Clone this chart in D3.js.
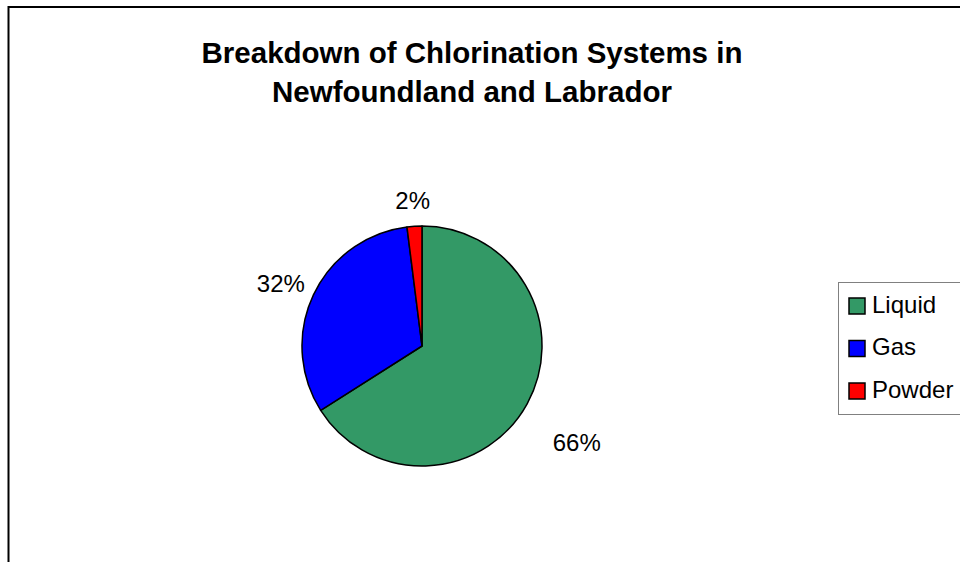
<!DOCTYPE html>
<html>
<head>
<meta charset="utf-8">
<script src="https://cdn.jsdelivr.net/npm/d3@7"></script>
<style>
  html, body { margin: 0; padding: 0; background: #fff; }
  svg { display: block; font-family: "Liberation Sans", Arial, sans-serif; }
</style>
</head>
<body>
<svg id="chart" width="960" height="562"></svg>
<script>
// Chlorination systems by type (share of systems, %)
const categories = ["Liquid", "Gas", "Powder"];
const shares = [66, 32, 2];
const colors = ["#339966", "#0000FF", "#FF0000"];
const titleLines = ["Breakdown of Chlorination Systems in", "Newfoundland and Labrador"];

const svg = d3.select("#chart");

// outer chart frame
svg.append("rect")
  .attr("x", 8.5).attr("y", 7)
  .attr("width", 1000).attr("height", 600)
  .attr("fill", "#fff")
  .attr("stroke", "#000")
  .attr("stroke-width", 2);

// title
const title = svg.append("text")
  .attr("text-anchor", "middle")
  .attr("font-weight", "bold")
  .attr("font-size", 29.5)
  .attr("fill", "#000");
titleLines.forEach((t, i) => {
  title.append("tspan").attr("x", 472).attr("y", 63 + i * 39).text(t);
});

// pie
const cx = 422, cy = 346, r = 120;
const data = categories.map((c, i) => ({ name: c, value: shares[i], color: colors[i] }));
const pie = d3.pie().value(d => d.value).sort(null);
const arc = d3.arc().innerRadius(0).outerRadius(r);
const arcs = pie(data);

const g = svg.append("g").attr("transform", `translate(${cx},${cy})`);
g.selectAll("path.slice")
  .data(arcs)
  .join("path")
  .attr("class", "slice")
  .attr("d", arc)
  .attr("fill", d => d.data.color)
  .attr("stroke", "#000")
  .attr("stroke-width", 1.5)
  .attr("stroke-linejoin", "round");

// percentage labels just outside each slice; the large slice's label sits further out
const labelFont = 24;
const gap = 12, boxH = 28;
const labelNudge = [[18, 26], [0, 0], [0, 0]];
arcs.forEach((a, i) => {
  const mid = (a.startAngle + a.endAngle) / 2;
  const dx = Math.sin(mid), dy = -Math.cos(mid);
  const txt = g.append("text")
    .attr("font-size", labelFont)
    .attr("text-anchor", "middle")
    .attr("dominant-baseline", "central")
    .attr("fill", "#000")
    .text(d3.format(".0f")(a.data.value) + "%");
  const w = txt.node().getComputedTextLength();
  const ax = dx * (r + gap), ay = dy * (r + gap);
  txt.attr("x", ax + dx * w / 2 + labelNudge[i][0])
     .attr("y", ay + dy * boxH / 2 + labelNudge[i][1]);
});

// legend
const legend = svg.append("g");
legend.append("rect")
  .attr("x", 838.5).attr("y", 282.5)
  .attr("width", 200).attr("height", 132)
  .attr("fill", "#fff")
  .attr("stroke", "#808080")
  .attr("stroke-width", 1);

const ly = d3.scalePoint().domain(categories).range([306, 391]);
const item = legend.selectAll("g.item")
  .data(data)
  .join("g")
  .attr("class", "item")
  .attr("transform", d => `translate(849,${ly(d.name)})`);
item.append("rect")
  .attr("x", 0).attr("y", -8)
  .attr("width", 16).attr("height", 16)
  .attr("fill", d => d.color)
  .attr("stroke", "#000")
  .attr("stroke-width", 1.5);
item.append("text")
  .attr("x", 23).attr("y", -2)
  .attr("dominant-baseline", "central")
  .attr("font-size", 24)
  .attr("fill", "#000")
  .text(d => d.name);
</script>
</body>
</html>
